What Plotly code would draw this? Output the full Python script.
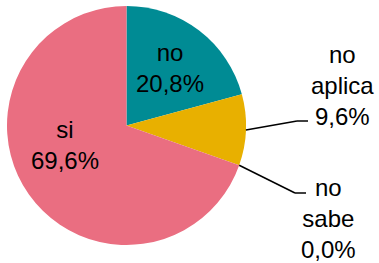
import math
import plotly.graph_objects as go

# Data
categories = ["no", "no aplica", "no sabe", "si"]
values = [20.8, 9.6, 0.0, 69.6]
pct_labels = ["20,8%", "9,6%", "0,0%", "69,6%"]
label_lines = ["no", "no<br>aplica", "no<br>sabe", "si"]
colors = ["#008B94", "#E8B000", "#E8B000", "#EA6E81"]

W, H = 379, 263
# pie geometry in pixels
CX, CY, R = 126.5, 125.5, 119.5

def px(x):
    return x / W

def py(y):
    return 1 - y / H

fig = go.Figure()
fig.add_trace(go.Pie(
    labels=categories,
    values=values,
    sort=False,
    direction="clockwise",
    rotation=0,
    marker=dict(colors=colors, line=dict(width=0)),
    textinfo="none",
    hoverinfo="skip",
    showlegend=False,
    domain=dict(x=[px(CX - R), px(CX + R)], y=[py(CY + R), py(CY - R)]),
))

FONT = dict(family="Liberation Sans, Arial, sans-serif", size=24, color="#000000")

# label placements (pixels): inside labels and outside labels
label_pos = {
    "no": (170, 68),
    "si": (65, 145),
    "no aplica": (342, 85),
    "no sabe": (328, 218),
}
# leader-line elbow points for outside labels
elbows = {
    "no aplica": [(297, 121), (308, 121)],
    "no sabe": [(295, 193), (306, 193)],
}

total = sum(values)
cum = 0.0
for cat, v, lab, pct in zip(categories, values, label_lines, pct_labels):
    mid = (cum + v / 2) / total * 2 * math.pi
    cum += v
    x, y = label_pos[cat]
    fig.add_annotation(
        x=px(x), y=py(y), xref="paper", yref="paper",
        text=f"{lab}<br>{pct}", showarrow=False, align="center",
        xanchor="center", yanchor="middle", font=FONT,
    )
    if cat in elbows:
        sx = CX + R * math.sin(mid)
        sy = CY - R * math.cos(mid)
        pts = [(sx, sy)] + elbows[cat]
        for (x0, y0), (x1, y1) in zip(pts[:-1], pts[1:]):
            fig.add_shape(type="line", xref="paper", yref="paper",
                          x0=px(x0), y0=py(y0), x1=px(x1), y1=py(y1),
                          line=dict(color="#000000", width=1.5))

fig.update_layout(
    width=W, height=H,
    margin=dict(l=0, r=0, t=0, b=0),
    paper_bgcolor="white", plot_bgcolor="white",
)

fig.write_html(
    "out.html",
    config={"displayModeBar": False},
    post_script="document.body.style.margin='0';document.body.style.overflow='hidden';",
)
